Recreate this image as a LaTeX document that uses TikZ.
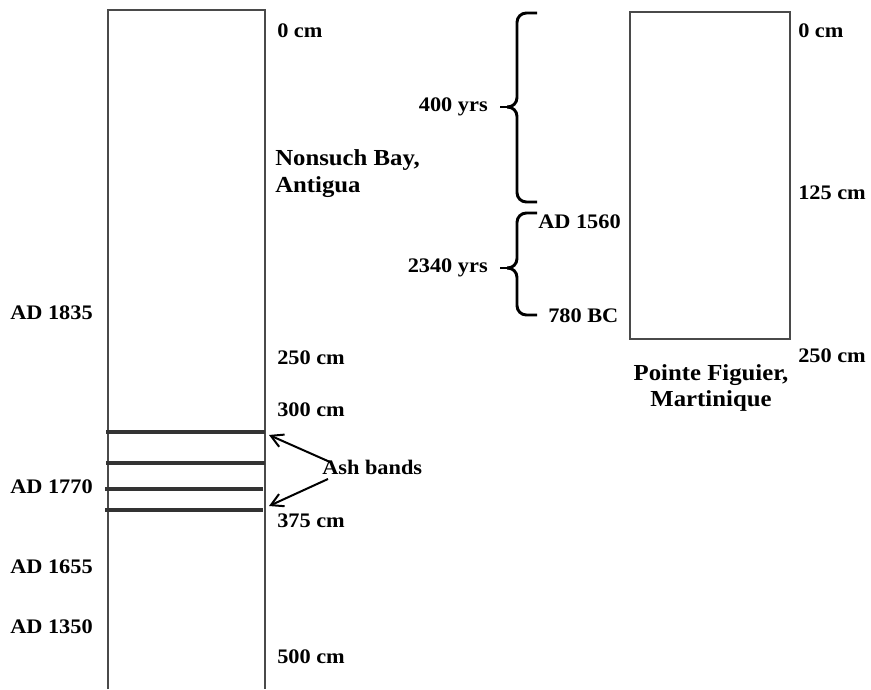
\documentclass[tikz,border=0pt]{standalone}
\usepackage{fontspec}
\setmainfont{Liberation Serif}[FakeStretch=1.08]
\usetikzlibrary{arrows.meta}
\definecolor{core}{HTML}{4A4A4A}
\definecolor{ashgrey}{HTML}{333333}

\begin{document}
\begin{tikzpicture}[x=0.75pt, y=0.75pt]
  \tikzset{
    lbl/.style={anchor=west,inner sep=0pt,font=\bfseries\fontsize{15.5}{20}\selectfont},
    lbr/.style={lbl,anchor=east},
    site/.style={inner sep=0pt,font=\bfseries\fontsize{17.2}{20.2}\selectfont},
    col/.style={draw=core,line width=1pt},
    band/.style={draw=ashgrey,line width=3.4pt},
    brc/.style={draw=black,line width=2.2pt,rounded corners=7pt},
    tick/.style={draw=black,line width=2.2pt},
    arr/.style={draw=black,line width=1.5pt,-{Straight Barb[length=9pt,width=10pt]}}
  }
  \useasboundingbox (0,0) rectangle (871,689);

  \draw[col] (108,0) -- (108,679) -- (265,679) -- (265,0);
  \draw[band] (106,257) -- (265,257);
  \draw[band] (106,226) -- (265,226);
  \draw[band] (105,200) -- (263,200);
  \draw[band] (105,179) -- (263,179);

  \node[lbl] (d0) at (277,658) {0 cm};
  \node[site,anchor=west,align=left] (site1) at (275,515) {Nonsuch Bay,\\Antigua};
  \node[lbl] (d250) at (277,331) {250 cm};
  \node[lbl] (d300) at (277,279) {300 cm};
  \node[lbl] (d375) at (277,168) {375 cm};
  \node[lbl] (d500) at (277,32) {500 cm};

  \node[lbl] (ad1835) at (10,376) {AD 1835};
  \node[lbl] (ad1770) at (10,202) {AD 1770};
  \node[lbl] (ad1655) at (10,122) {AD 1655};
  \node[lbl] (ad1350) at (10,62) {AD 1350};

  \node[lbl] (ash) at (322,222) {Ash bands};
  \coordinate (t1) at (330,227);
  \coordinate (t2) at (328,210);
  \coordinate (h1) at (269,254);
  \coordinate (h2) at (269,183);
  \draw[arr] (t1) -- (h1);
  \draw[arr] (t2) -- (h2);

  \draw[col] (630,350) rectangle (790,677);
  \node[lbl] (r0) at (798,658) {0 cm};
  \node[lbl] (r125) at (798,496) {125 cm};
  \node[lbl] (r250) at (798,333) {250 cm};
  \node[site,align=center] (site2) at (711,301) {Pointe Figuier,\\Martinique};

  \coordinate (b1tip) at (507,582);
  \coordinate (b2tip) at (507,421);
  \draw[brc] (537,676) -- (517,676) -- (517,582) -- (b1tip);
  \draw[brc] (b1tip) -- (517,582) -- (517,487) -- (537,487);
  \draw[brc] (537,476) -- (517,476) -- (517,421) -- (b2tip);
  \draw[brc] (b2tip) -- (517,421) -- (517,374) -- (537,374);

  \node[lbr] (y400) at (488,582) {400 yrs};
  \node[lbr] (y2340) at (488,421) {2340 yrs};
  \draw[tick] ([xshift=9]y400.east) -- (b1tip);
  \draw[tick] ([xshift=9]y2340.east) -- (b2tip);

  \node[lbl] (ad1560) at (538,467) {AD 1560};
  \node[lbl] (bc780) at (548,373) {780 BC};
\end{tikzpicture}
\end{document}
